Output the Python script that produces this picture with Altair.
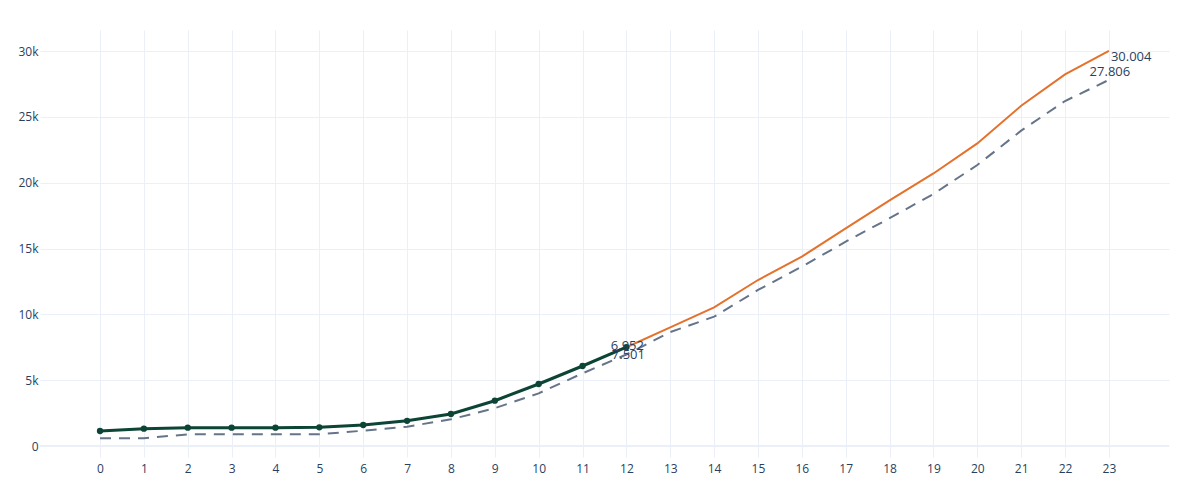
import altair as alt
import pandas as pd

# ---- data ----
x_observed = list(range(0, 13))
observed = [1139, 1316, 1392, 1392, 1392, 1418, 1595, 1912, 2430, 3440, 4709, 6076, 7501]

x_forecast = list(range(12, 24))
forecast = [7501, 9013, 10532, 12607, 14380, 16531, 18660, 20700, 22980, 25840, 28220, 30004]

x_baseline = list(range(0, 24))
baseline = [585, 585, 888, 888, 888, 888, 1165, 1468, 2025, 2870, 4000, 5519,
            6952, 8650, 9823, 11850, 13620, 15519, 17300, 19140, 21340, 23950, 26200, 27806]

x_ticks = list(range(0, 24))
y_ticks = [0, 5000, 10000, 15000, 20000, 25000, 30000]

label_above = pd.DataFrame({"x": [12, 23], "y": [6952, 27806], "t": ["6.952", "27.806"]})
label_below = pd.DataFrame({"x": [12], "y": [7501], "t": ["7.501"]})
label_right = pd.DataFrame({"x": [23], "y": [30004], "t": ["30.004"]})

df_obs = pd.DataFrame({"x": x_observed, "y": observed})
df_fc = pd.DataFrame({"x": x_forecast, "y": forecast})
df_base = pd.DataFrame({"x": x_baseline, "y": baseline})

GRID = "#EBF0F8"
TXT = "#2a3f5f"
FONT = "Open Sans"

xs = alt.Scale(domain=[-1.368, 24.37], nice=False, zero=False)
ys = alt.Scale(domain=[-835, 31595], nice=False, zero=False)

X = alt.X("x:Q", scale=xs, title=None,
          axis=alt.Axis(values=x_ticks, grid=True, gridColor=GRID, gridWidth=1,
                        domain=False, ticks=False, labelPadding=6,
                        labelColor=TXT, labelFont=FONT, labelFontSize=12,
                        labelFlush=False))
Y = alt.Y("y:Q", scale=ys, title=None,
          axis=alt.Axis(values=y_ticks, grid=True, gridColor=GRID, gridWidth=1,
                        domain=False, ticks=False, labelPadding=2,
                        labelColor=TXT, labelFont=FONT, labelFontSize=12,
                        labelExpr="datum.value == 0 ? '0' : (datum.value / 1000) + 'k'"))

zero = alt.Chart(pd.DataFrame({"y": [0]})).mark_rule(color=GRID, strokeWidth=2).encode(y=Y)

base_line = alt.Chart(df_base).mark_line(
    color="#66748a", strokeWidth=2, strokeDash=[11, 8]).encode(x=X, y=Y)

fc_line = alt.Chart(df_fc).mark_line(color="#e4712c", strokeWidth=2).encode(x=X, y=Y)

obs_line = alt.Chart(df_obs).mark_line(color="#0c4535", strokeWidth=3).encode(x=X, y=Y)
obs_pts = alt.Chart(df_obs).mark_point(
    filled=True, size=40, color="#0c4535", opacity=1).encode(x=X, y=Y)

txt_kw = dict(font=FONT, fontSize=13, color=TXT, baseline="middle")
t_above = alt.Chart(label_above).mark_text(align="center", dx=1, dy=-8, **txt_kw).encode(
    x=X, y=Y, text="t:N")
t_below = alt.Chart(label_below).mark_text(align="center", dx=2, dy=8, **txt_kw).encode(
    x=X, y=Y, text="t:N")
t_right = alt.Chart(label_right).mark_text(align="left", dx=2, dy=6, **txt_kw).encode(
    x=X, y=Y, text="t:N")

chart = alt.layer(zero, base_line, fc_line, obs_line, obs_pts, t_above, t_below, t_right).properties(
    width=1129, height=427,
    padding={"left": 32, "top": 22, "right": 23, "bottom": 35},
    autosize=alt.AutoSizeParams(type="none"),
    background="white",
).configure_view(stroke=None)

chart.save("out.html", embed_options={"renderer": "svg", "actions": False})
